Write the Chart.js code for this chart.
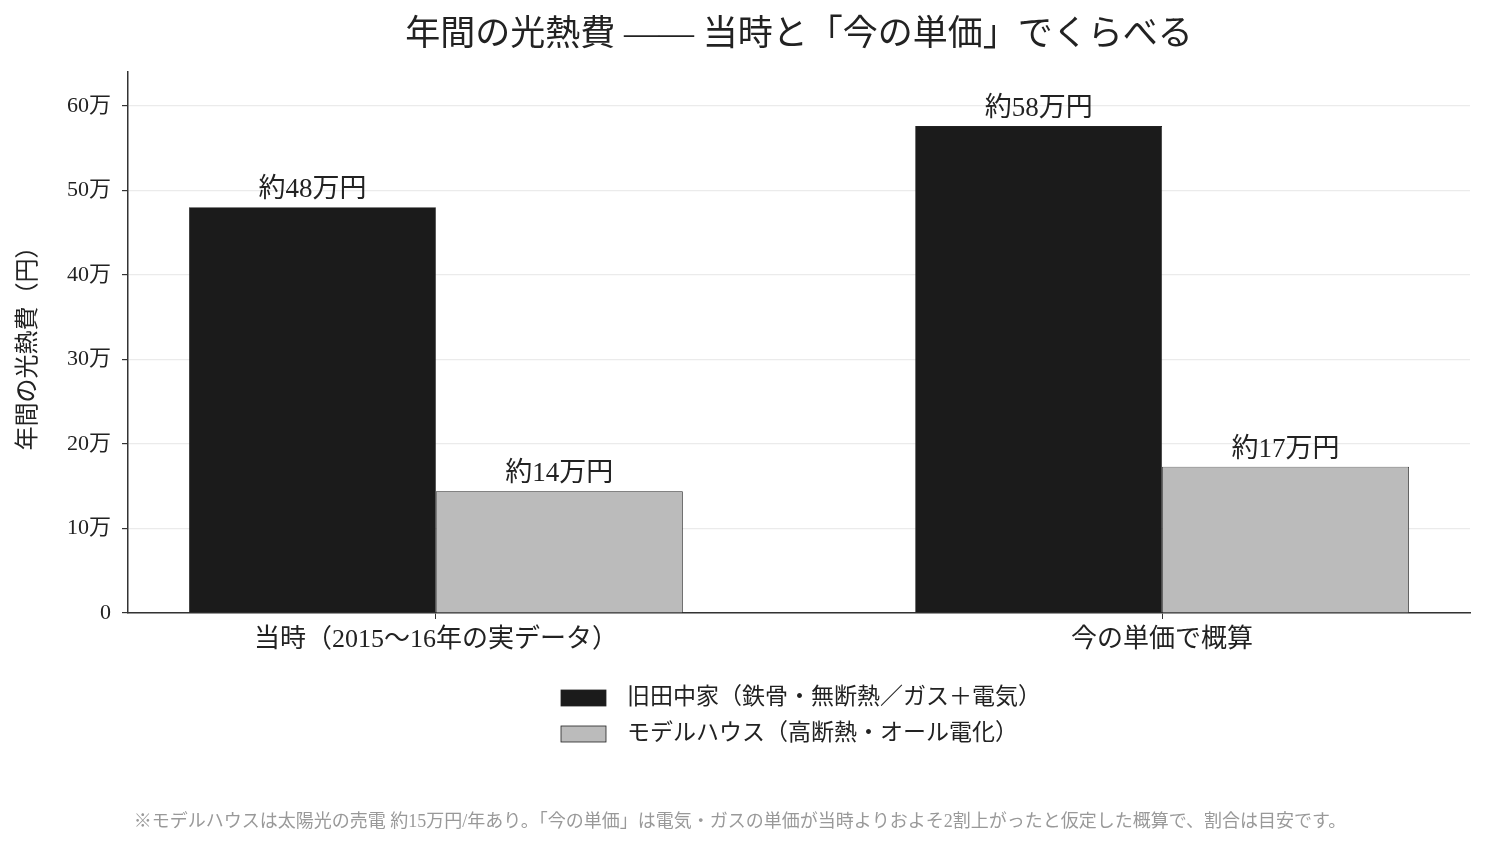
<!DOCTYPE html>
<html>
<head>
<meta charset="utf-8">
<script src="https://cdn.jsdelivr.net/npm/chart.js@4/dist/chart.umd.min.js"></script>
<style>
  html, body { margin: 0; padding: 0; background: #fff; }
  #wrap { width: 1485px; height: 848px; position: relative; }
</style>
</head>
<body>
<div id="wrap"><canvas id="costChart" width="1485" height="848"></canvas></div>
<script>
// chart data
var categories = ["当時（2015〜16年の実データ）", "今の単価で概算"];
var seriesNames = ["旧田中家（鉄骨・無断熱／ガス＋電気）", "モデルハウス（高断熱・オール電化）"];
var oldHouseCost = [480000, 576000];
var modelHouseCost = [144000, 173000];
var oldHouseLabels = ["約48万円", "約58万円"];
var modelHouseLabels = ["約14万円", "約17万円"];
var yTicks = [0, 100000, 200000, 300000, 400000, 500000, 600000];
var footnote = "※モデルハウスは太陽光の売電 約15万円/年あり。「今の単価」は電気・ガスの単価が当時よりおよそ2割上がったと仮定した概算で、割合は目安です。";

var FONT = '"Liberation Serif", "Noto Sans CJK JP", serif';
var barColors = ["#1b1b1b", "#bbbbbb"];

function toPoints(values) {
  return values.map(function (v, i) {
    return { x: i, y: v };
  });
}

// value labels above each bar
var barLabelPlugin = {
  id: "barLabels",
  afterDatasetsDraw: function (chart) {
    var ctx = chart.ctx;
    var allLabels = [oldHouseLabels, modelHouseLabels];
    ctx.save();
    ctx.font = "27px " + FONT;
    ctx.fillStyle = "#222";
    ctx.textAlign = "center";
    ctx.textBaseline = "middle";
    chart.data.datasets.forEach(function (ds, di) {
      var meta = chart.getDatasetMeta(di);
      meta.data.forEach(function (bar, i) {
        ctx.fillText(allLabels[di][i], bar.x, bar.y - 17);
      });
    });
    ctx.restore();
  },
};

// legend (stacked) and footnote below the axis
var legendNotePlugin = {
  id: "legendNote",
  afterDraw: function (chart) {
    var ctx = chart.ctx;
    ctx.save();
    var rows = [698, 734];
    ctx.font = "23px " + FONT;
    ctx.textBaseline = "middle";
    ctx.textAlign = "left";
    seriesNames.forEach(function (name, i) {
      ctx.fillStyle = barColors[i];
      ctx.fillRect(561, rows[i] - 8, 45, 16);
      ctx.strokeStyle = "#222";
      ctx.lineWidth = 0.8;
      ctx.strokeRect(561, rows[i] - 8, 45, 16);
      ctx.fillStyle = "#222";
      ctx.fillText(name, 627, rows[i]);
    });
    ctx.font = "18px " + FONT;
    ctx.fillStyle = "#999";
    ctx.textAlign = "center";
    ctx.fillText(footnote, 740, 822);
    ctx.restore();
  },
};

var ctx = document.getElementById("costChart").getContext("2d");
var costChart = new Chart(ctx, {
  type: "bar",
  data: {
    datasets: [
      {
        label: seriesNames[0],
        data: toPoints(oldHouseCost),
        backgroundColor: barColors[0],
        borderColor: "#222",
        borderWidth: 0.8,
        categoryPercentage: 0.68,
        barPercentage: 1,
      },
      {
        label: seriesNames[1],
        data: toPoints(modelHouseCost),
        backgroundColor: barColors[1],
        borderColor: "#222",
        borderWidth: 0.8,
        categoryPercentage: 0.68,
        barPercentage: 1,
      },
    ],
  },
  options: {
    responsive: false,
    animation: false,
    layout: { padding: { left: 0, right: 15, top: 0, bottom: 0 } },
    plugins: {
      legend: { display: false },
      tooltip: { enabled: false },
      title: {
        display: true,
        fullSize: false,
        text: "年間の光熱費 —— 当時と「今の単価」でくらべる",
        color: "#222",
        font: { family: FONT, size: 35, weight: "normal" },
        padding: { top: 15, bottom: 15 },
      },
    },
    scales: {
      x: {
        type: "linear",
        min: -0.424,
        max: 1.424,
        offset: false,
        afterBuildTicks: function (scale) {
          scale.ticks = categories.map(function (c, i) {
            return { value: i };
          });
        },
        afterFit: function (scale) {
          scale.height = 235;
        },
        ticks: {
          color: "#222",
          font: { family: FONT, size: 26 },
          padding: 6,
          maxRotation: 0,
          autoSkip: false,
          callback: function (value) {
            return categories[value];
          },
        },
        grid: {
          offset: false,
          drawOnChartArea: false,
          drawTicks: true,
          tickLength: 6,
          tickColor: "#333",
        },
        border: { color: "#333", width: 1.5 },
      },
      y: {
        min: 0,
        max: 640000,
        afterBuildTicks: function (scale) {
          scale.ticks = yTicks.map(function (v) {
            return { value: v };
          });
        },
        afterFit: function (scale) {
          scale.width = 128;
        },
        ticks: {
          color: "#222",
          font: { family: FONT, size: 22 },
          padding: 11,
          callback: function (value) {
            return value === 0 ? "0" : value / 10000 + "万";
          },
        },
        grid: {
          color: "#ebebeb",
          lineWidth: 1.2,
          tickLength: 6,
          tickColor: "#333",
        },
        border: { color: "#333", width: 1.5 },
        title: {
          display: true,
          text: "年間の光熱費（円）",
          color: "#222",
          font: { family: FONT, size: 24 },
          padding: { top: 14, bottom: 8 },
        },
      },
    },
  },
  plugins: [barLabelPlugin, legendNotePlugin],
});
</script>
</body>
</html>
